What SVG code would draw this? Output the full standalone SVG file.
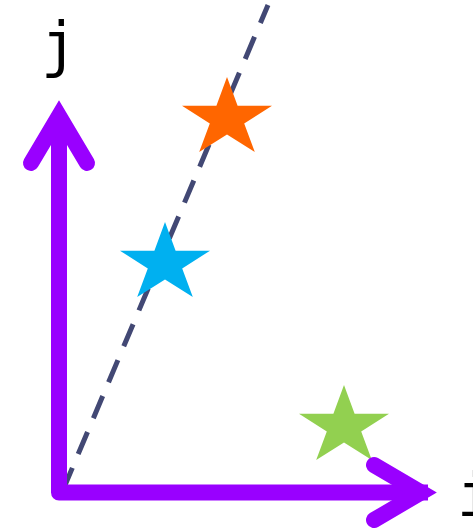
<svg xmlns="http://www.w3.org/2000/svg" width="473" height="528" viewBox="0 0 473 528">
<style>
.axis{fill:none;stroke:#9900ff;stroke-width:16}
.head{fill:none;stroke:#9900ff;stroke-width:16;stroke-linecap:round;stroke-linejoin:miter;stroke-miterlimit:10}
.dash{fill:none;stroke:#424874;stroke-width:5;stroke-dasharray:24 15}
.lbl{font-family:"DejaVu Sans Mono","Liberation Mono",monospace;font-size:60px;fill:#000}
</style>
<defs>
<path id="star" d="M0,-41.5 L10.6,-12.8 L45,-12.8 L17.2,4.9 L27.8,33.6 L0,15.9 L-27.8,33.6 L-17.2,4.9 L-45,-12.8 L-10.6,-12.8 Z"/>
</defs>
<rect width="473" height="528" fill="#fff"/>
<g id="connectors">
<path class="dash" d="M63,490 L268,5"/>
</g>
<g id="star-orange"><use href="#star" transform="translate(227,118.5)" fill="#ff6600"/></g>
<g id="star-blue"><use href="#star" transform="translate(165,263.5)" fill="#00b0f0"/></g>
<g id="star-green"><use href="#star" transform="translate(344,426.5)" fill="#92d050"/></g>
<g id="axes">
<path class="axis" d="M59,120 L59,492.5 L428,492.5" stroke-linejoin="round"/>
<path class="head" d="M31,163 L59,116 L87,163"/>
<path class="head" d="M374,465 L421,492.5 L374,520"/>
</g>
<g id="label-j"><text class="lbl" x="59" y="65" text-anchor="middle">j</text></g>
<g id="label-i"><text class="lbl" x="475" y="516" text-anchor="middle">i</text></g>
</svg>
